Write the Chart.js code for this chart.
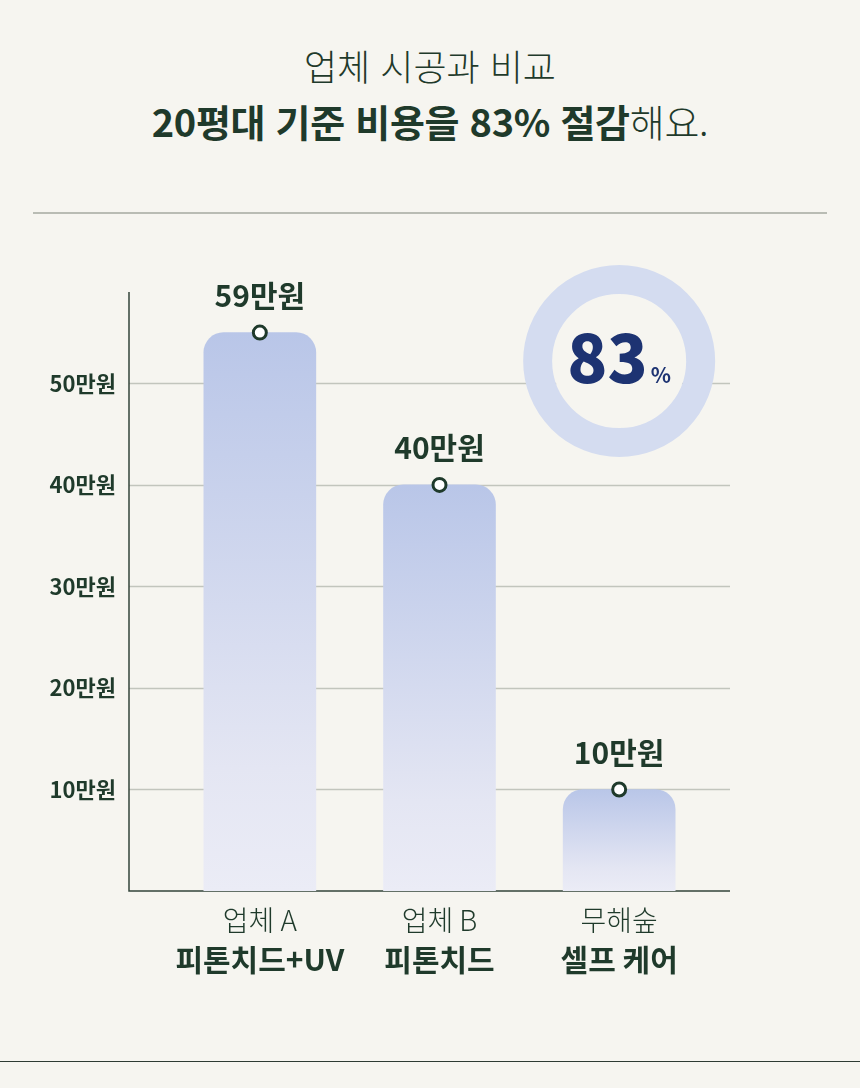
<!DOCTYPE html>
<html lang="ko">
<head>
<meta charset="utf-8">
<title>업체 시공과 비교</title>
<script src="https://cdn.jsdelivr.net/npm/chart.js@4.4.1/dist/chart.umd.min.js"></script>
<style>
  html, body { margin: 0; padding: 0; background: #f6f5f0; }
  #page {
    position: relative; width: 860px; height: 1088px; overflow: hidden;
    font-family: "Noto Sans CJK KR", "Noto Sans", sans-serif; color: #1f3a2b;
  }
  .sub, .head { position: absolute; left: 0; width: 860px; text-align: center; white-space: nowrap; }
  .sub { top: 43px; font-size: 36px; font-weight: 300; line-height: 44px; letter-spacing: 0; }
  .head { top: 98px; font-size: 38px; font-weight: 700; line-height: 46px; letter-spacing: -0.3px; }
  .head span { font-weight: 300; }
  .rule { position: absolute; left: 33px; width: 794px; top: 212px; height: 1.5px; background: #b9bcb4; }
  .foot { position: absolute; left: 0; width: 860px; top: 1061px; height: 1px; background: #2e3b33; }
  canvas { position: absolute; left: 0; top: 0; }
</style>
</head>
<body>
<div id="page">
  <div class="sub">업체 시공과 비교</div>
  <div class="head">20평대 기준 비용을 83% 절감<span>해요.</span></div>
  <div class="rule"></div>
  <canvas id="chart" width="860" height="1088"></canvas>
  <div class="foot"></div>
</div>
<script>
// categories: two lines under each bar (regular / bold)
const CATEGORY_TOP = ['업체 A', '업체 B', '무해숲'];
const CATEGORY_BOTTOM = ['피톤치드+UV', '피톤치드', '셀프 케어'];

// prices in 만원, as written above each bar
const PRICES = [59, 40, 10];
// bar heights as drawn in the reference (the first bar is drawn shorter than 59)
const BAR_HEIGHTS = [55, 40, 10];

const Y_MAX = 59;
const Y_STEP = 10;
const TICK_SUFFIX = '만원';

const INK = '#1f3a2b';
const GRID = '#c2c5bd';
const BAR_TOP = '#b9c6e8';
const BAR_MID = '#e4e6f3';
const BAR_BOTTOM = '#ebecf6';
const RING = '#d4dcf0';
const NAVY = '#1d3372';
const BG = '#f6f5f0';
const FONT = '"Noto Sans CJK KR", "Noto Sans", sans-serif';

const savedPct = Math.round((1 - PRICES[2] / PRICES[0]) * 100);

function barGradient(context) {
  const chart = context.chart;
  if (!chart.chartArea) return BAR_TOP;
  const y = chart.scales.y;
  const top = y.getPixelForValue(BAR_HEIGHTS[context.dataIndex]);
  const base = y.getPixelForValue(0);
  const g = chart.ctx.createLinearGradient(0, top, 0, base);
  g.addColorStop(0, BAR_TOP);
  g.addColorStop(0.78, BAR_MID);
  g.addColorStop(1, BAR_BOTTOM);
  return g;
}

// gridlines, axis lines and the savings ring, drawn under the bars
const framePlugin = {
  id: 'frame',
  beforeDatasetsDraw(chart) {
    const { ctx, chartArea, scales: { x, y } } = chart;
    const left = chartArea.left - 41;
    const right = chartArea.right + 21;
    const base = y.getPixelForValue(0);

    ctx.save();
    ctx.strokeStyle = GRID;
    ctx.lineWidth = 1.5;
    y.ticks.forEach((t) => {
      if (t.value <= 0 || t.value % Y_STEP !== 0) return;
      const py = Math.round(y.getPixelForValue(t.value)) + 0.5;
      ctx.beginPath();
      ctx.moveTo(left, py);
      ctx.lineTo(right, py);
      ctx.stroke();
    });

    // ring with the saving percentage
    const cx = x.getPixelForValue(2);
    const cy = y.getPixelForValue(52.2);
    ctx.beginPath();
    ctx.arc(cx, cy, 67, 0, Math.PI * 2);
    ctx.fillStyle = BG;
    ctx.fill();
    ctx.beginPath();
    ctx.arc(cx, cy, 81.5, 0, Math.PI * 2);
    ctx.strokeStyle = RING;
    ctx.lineWidth = 29;
    ctx.stroke();

    ctx.fillStyle = NAVY;
    ctx.textBaseline = 'alphabetic';
    ctx.font = `900 66px ${FONT}`;
    const big = String(savedPct);
    const bigW = ctx.measureText(big).width;
    ctx.font = `700 21px ${FONT}`;
    const smallW = ctx.measureText('%').width;
    const startX = cx - (bigW + 3 + smallW) / 2;
    ctx.textAlign = 'left';
    ctx.font = `900 66px ${FONT}`;
    ctx.fillText(big, startX, cy + 22);
    ctx.font = `700 21px ${FONT}`;
    ctx.fillText('%', startX + bigW + 3, cy + 22);

    // axes
    ctx.strokeStyle = '#33443a';
    ctx.lineWidth = 1.5;
    ctx.beginPath();
    ctx.moveTo(left, y.getPixelForValue(Y_MAX));
    ctx.lineTo(left, base);
    ctx.lineTo(right, base);
    ctx.stroke();
    ctx.restore();
  },
  afterDatasetsDraw(chart) {
    const { ctx, scales: { x, y } } = chart;
    const points = chart.getDatasetMeta(1).data;
    const base = y.getPixelForValue(0);
    ctx.save();
    ctx.fillStyle = INK;
    ctx.textAlign = 'center';
    ctx.textBaseline = 'middle';
    points.forEach((pt, i) => {
      ctx.font = `700 30px ${FONT}`;
      ctx.fillText(PRICES[i] + TICK_SUFFIX, pt.x, pt.y - 37);
    });
    CATEGORY_TOP.forEach((label, i) => {
      const px = x.getPixelForValue(i);
      ctx.font = `300 28px ${FONT}`;
      ctx.fillText(label, px, base + 29);
      ctx.font = `700 30px ${FONT}`;
      ctx.fillText(CATEGORY_BOTTOM[i], px, base + 69);
    });
    ctx.restore();
  },
};

new Chart(document.getElementById('chart'), {
  data: {
    labels: CATEGORY_TOP,
    datasets: [
      {
        type: 'bar',
        data: BAR_HEIGHTS,
        backgroundColor: barGradient,
        barThickness: 112,
        borderRadius: { topLeft: 20, topRight: 20, bottomLeft: 0, bottomRight: 0 },
        borderSkipped: 'bottom',
        order: 2,
      },
      {
        type: 'line',
        data: BAR_HEIGHTS,
        showLine: false,
        pointRadius: 6.5,
        pointBorderWidth: 3,
        pointBackgroundColor: '#ffffff',
        pointBorderColor: INK,
        order: 1,
      },
    ],
  },
  options: {
    responsive: false,
    animation: false,
    layout: { padding: { top: 292, bottom: 197, left: 20, right: 151 } },
    plugins: { legend: { display: false }, tooltip: { enabled: false } },
    scales: {
      x: { display: false, offset: true },
      y: {
        min: 0,
        max: Y_MAX,
        afterFit: (scale) => { scale.width = 150; },
        grid: { display: false },
        border: { display: false },
        ticks: {
          stepSize: Y_STEP,
          padding: 46,
          color: INK,
          font: { family: FONT, size: 22, weight: '700' },
          callback: (v) => (v > 0 && v % Y_STEP === 0 ? v + TICK_SUFFIX : ''),
        },
      },
    },
  },
  plugins: [framePlugin],
});
</script>
</body>
</html>
